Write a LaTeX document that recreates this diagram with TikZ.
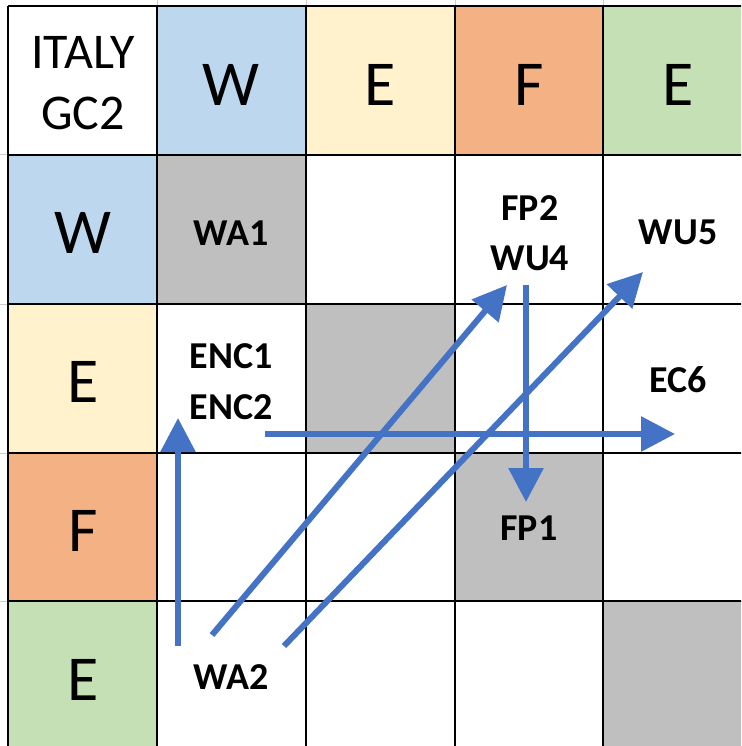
\documentclass[tikz,border=0pt]{standalone}
\usepackage{fontspec}
\setmainfont{Carlito}
\usetikzlibrary{arrows.meta}
\definecolor{cblue}{HTML}{BDD7EE}
\definecolor{cyellow}{HTML}{FFF2CC}
\definecolor{corange}{HTML}{F4B183}
\definecolor{cgreen}{HTML}{C5E0B4}
\definecolor{cgrey}{HTML}{BFBFBF}
\definecolor{carrow}{HTML}{4472C4}
\tikzset{
  hdr/.style={inner sep=0pt, font=\fontsize{64}{64}\selectfont},
  corner/.style={inner sep=0pt, font=\fontsize{50}{50}\selectfont},
  lbl/.style={inner sep=0pt, font=\fontsize{38}{38}\selectfont\bfseries},
  flow/.style={draw=carrow, line width=6pt, -{Triangle[length=34pt,width=34pt]}},
  gridline/.style={draw=black, line width=1.5pt},
}
\begin{document}
\begin{tikzpicture}[x=1pt,y=-1pt]
\useasboundingbox (0,0) rectangle (741,746);
\clip (0,0) rectangle (741,746);
\fill[white] (0,0) rectangle (741,746);
% faint spreadsheet gridlines outside the table
\draw[gray!40, line width=1pt] (0,155) -- (8,155) (0,304) -- (8,304) (0,453) -- (8,453) (0,601) -- (8,601);
\draw[gray!40, line width=1pt] (157,0) -- (157,6) (306,0) -- (306,6) (455,0) -- (455,6) (603,0) -- (603,6);
% header fills
\fill[cblue] (157,6) rectangle (306,155);
\fill[cyellow] (306,6) rectangle (455,155);
\fill[corange] (455,6) rectangle (603,155);
\fill[cgreen] (603,6) rectangle (752,155);
\fill[cblue] (8,155) rectangle (157,304);
\fill[cyellow] (8,304) rectangle (157,453);
\fill[corange] (8,453) rectangle (157,601);
\fill[cgreen] (8,601) rectangle (157,750);
% diagonal grey cells
\fill[cgrey] (157,155) rectangle (306,304);
\fill[cgrey] (306,304) rectangle (455,453);
\fill[cgrey] (455,453) rectangle (603,601);
\fill[cgrey] (603,601) rectangle (752,750);
% grid
\foreach \x in {8,157,306,455,603,752} \draw[gridline] (\x,6) -- (\x,750);
\foreach \y in {6,155,304,453,601,750} \draw[gridline] (8,\y) -- (752,\y);
% header texts
\node[corner] (italy) at (83,52) {ITALY};
\node[corner] (gc2) at (83,113) {GC2};
\node[hdr] (cW) at (231,85) {W};
\node[hdr] (cE1) at (380,85) {E};
\node[hdr] (cF) at (529,85) {F};
\node[hdr] (cE2) at (678,85) {E};
\node[hdr] (rW) at (83,233) {W};
\node[hdr] (rE1) at (83,382) {E};
\node[hdr] (rF) at (83,531) {F};
\node[hdr] (rE2) at (83,680) {E};
% cell labels
\node[lbl] (wa1) at (231,233) {WA1};
\node[lbl] (fp2) at (530,208) {FP2};
\node[lbl] (wu4) at (530,258) {WU4};
\node[lbl] (wu5) at (678,232) {WU5};
\node[lbl] (enc1) at (231,356) {ENC1};
\node[lbl] (enc2) at (231,407) {ENC2};
\node[lbl] (ec6) at (678,380) {EC6};
\node[lbl] (fp1) at (529,528) {FP1};
\node[lbl] (wa2) at (231,677) {WA2};
% arrow end points
\coordinate (a1s) at (178,646);
\coordinate (a1e) at (178,418);
\coordinate (a2s) at (212,635);
\coordinate (a2e) at (507,285);
\coordinate (a3s) at (284,646);
\coordinate (a3e) at (643,272);
\coordinate (a4s) at (265,434);
\coordinate (a4e) at (675,434);
\coordinate (a5s) at (526,285);
\coordinate (a5e) at (526,502);
% arrows
\draw[flow] (a1s) -- (a1e);
\draw[flow] (a2s) -- (a2e);
\draw[flow] (a3s) -- (a3e);
\draw[flow] (a4s) -- (a4e);
\draw[flow] (a5s) -- (a5e);
\end{tikzpicture}
\end{document}
